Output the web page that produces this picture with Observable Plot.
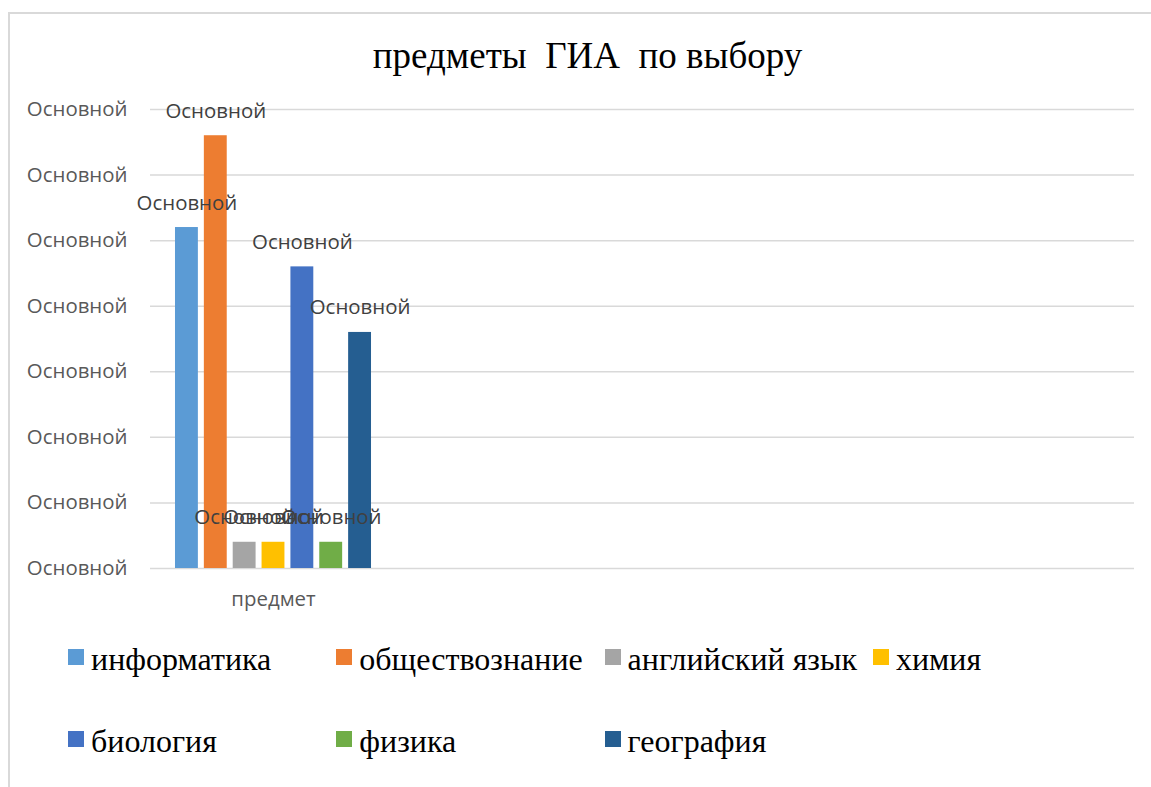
<!DOCTYPE html>
<html>
<head>
<meta charset="utf-8">
<script src="https://cdn.jsdelivr.net/npm/d3@7"></script>
<script src="https://cdn.jsdelivr.net/npm/@observablehq/plot@0.6"></script>
<style>
  html, body { margin: 0; padding: 0; background: #fff; }
  #root { position: relative; width: 1151px; height: 787px; overflow: hidden; }
  #frame { position: absolute; left: 8px; top: 12px; width: 1300px; height: 900px;
           border-left: 2px solid #d9d9d9; border-top: 2px solid #d9d9d9; }
  #title { position: absolute; left: 0; width: 1175px; top: 37px; text-align: center;
           font-family: "Liberation Serif", serif; font-size: 37px; line-height: 37px;
           white-space: pre; color: #000; }
  #chart { position: absolute; left: 0; top: 80px; }
  .item { position: absolute; font-family: "Liberation Serif", serif; font-size: 32px;
          line-height: 32px; white-space: pre; color: #000; }
  .sw { position: absolute; left: 0; top: 6px; width: 16px; height: 16px; }
  .lbl { position: absolute; left: 23px; top: 0; }
</style>
</head>
<body>
<div id="root">
  <div id="frame"></div>
  <div id="title"></div>
  <div id="chart"></div>
  <div id="legend"></div>
</div>
<script>
const titleText = "предметы  ГИА  по выбору";
const categories = ["предмет", " ", "  ", "   "];
const subjects = ["информатика", "обществознание", "английский язык", "химия", "биология", "физика", "география"];
const values = [26, 33, 2, 2, 23, 2, 18];
const colors = ["#5B9BD5", "#ED7D31", "#A5A5A5", "#FFC000", "#4472C4", "#70AD47", "#255E91"];
const dataLabels = ["Основной", "Основной", "Основной", "Основной", "Основной", "Основной", "Основной"];
const yTicks = [0, 5, 10, 15, 20, 25, 30, 35];
const yTickLabels = ["Основной", "Основной", "Основной", "Основной", "Основной", "Основной", "Основной", "Основной"];

document.getElementById("title").textContent = titleText;

const rows = subjects.map((s, i) => ({category: categories[0], subject: s, value: values[i], label: dataLabels[i]}));
const gridRows = categories.flatMap(c => yTicks.map(t => ({category: c, tick: t})));

const chart = Plot.plot({
  width: 1151,
  height: 540,
  marginLeft: 150,
  marginRight: 17,
  marginTop: 29,
  marginBottom: 52,
  style: {fontFamily: "'Open Sans', sans-serif", fontSize: "20.4px", background: "transparent", color: "#595959", overflow: "visible"},
  fx: {domain: categories, padding: 0, round: false},
  x: {domain: subjects, paddingInner: 0.207, paddingOuter: 0.866, round: false, axis: null},
  y: {domain: [0, 35]},
  color: {domain: subjects, range: colors},
  marks: [
    Plot.ruleY(gridRows, {fx: "category", y: "tick", stroke: "#d9d9d9", strokeWidth: 1.5}),
    Plot.axisY(yTicks, {tickFormat: d => yTickLabels[yTicks.indexOf(d)], tickSize: 0, tickPadding: 23, label: null, fontSize: 20.4}),
    Plot.axisFx({anchor: "bottom", tickSize: 0, tickPadding: 23.5, label: null, fontSize: 20.4}),
    Plot.barY(rows, {fx: "category", x: "subject", y: "value", fill: "subject"}),
    Plot.text(rows, {fx: "category", x: "subject", y: "value", text: "label", lineAnchor: "bottom", dy: -18, fill: "#404040", fontSize: 20.4})
  ]
});
document.getElementById("chart").appendChild(chart);

// legend: 4 columns, 2 rows
const legend = document.getElementById("legend");
const rowBaselines = [670, 752];
subjects.forEach((s, i) => {
  const col = i % 4, row = Math.floor(i / 4);
  const item = document.createElement("div");
  item.className = "item";
  item.style.left = (68 + col * 268.3) + "px";
  item.style.top = (rowBaselines[row] - 27) + "px";
  const sw = document.createElement("span");
  sw.className = "sw";
  sw.style.background = colors[i];
  const lbl = document.createElement("span");
  lbl.className = "lbl";
  lbl.textContent = s;
  item.appendChild(sw);
  item.appendChild(lbl);
  legend.appendChild(item);
});
</script>
</body>
</html>
